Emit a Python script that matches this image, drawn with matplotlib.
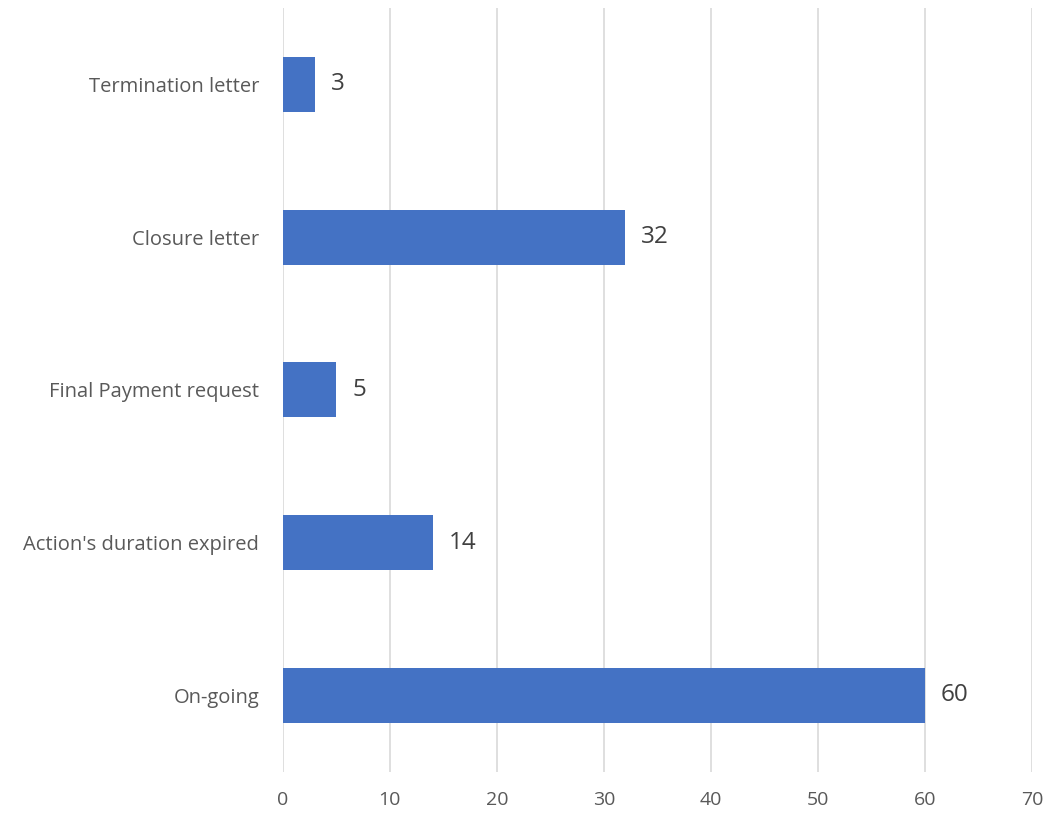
import matplotlib
matplotlib.use('Agg')
import matplotlib.pyplot as plt

categories = ['On-going', "Action's duration expired", 'Final Payment request',
              'Closure letter', 'Termination letter']
values = [60, 14, 5, 32, 3]
xticks = [0, 10, 20, 30, 40, 50, 60, 70]

plt.rcParams['font.family'] = ['Open Sans', 'DejaVu Sans']

fig = plt.figure(figsize=(10.59, 8.14), dpi=100)
ax = fig.add_axes([0.267, 0.052, 0.7075, 0.938])

ax.barh(range(len(categories)), values, height=0.36, color='#4472C4', zorder=3)
for i, v in enumerate(values):
    ax.text(v + 1.5, i, str(v), va='center', ha='left', fontsize=17.5, color='#404040')

ax.set_xlim(0, 70)
ax.set_ylim(-0.5, len(categories) - 0.5)
ax.set_xticks(xticks)
ax.set_yticks(range(len(categories)))
ax.set_yticklabels(categories)
ax.grid(axis='x', color='#D9D9D9', linewidth=1.2, zorder=0)
for s in ax.spines.values():
    s.set_visible(False)
ax.tick_params(axis='both', length=0, labelsize=14.5, labelcolor='#595959')
ax.tick_params(axis='y', pad=17)
ax.tick_params(axis='x', labelsize=14, pad=14)

fig.savefig('out.png', dpi=100)
